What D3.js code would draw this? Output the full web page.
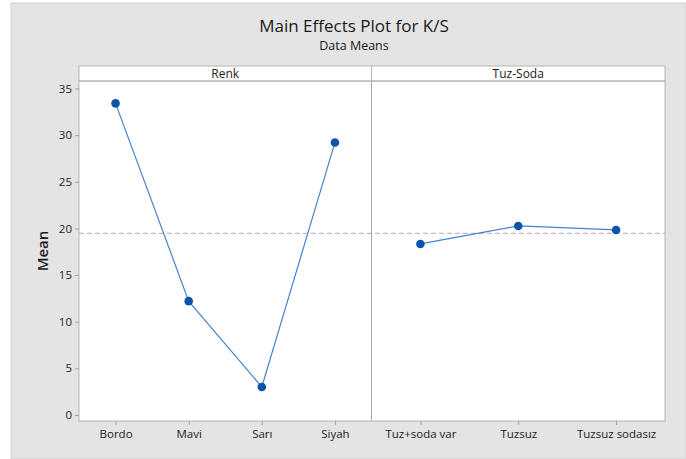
<!DOCTYPE html>
<html>
<head>
<meta charset="utf-8">
<script src="https://cdn.jsdelivr.net/npm/d3@7"></script>
<style>
  html, body { margin: 0; padding: 0; background: #ffffff; }
  svg { display: block; font-family: "Open Sans", "Noto Sans", sans-serif; }
</style>
</head>
<body>
<svg id="chart" width="686" height="459"></svg>
<script>
// Factor levels and their mean K/S responses
const renkLevels = ["Bordo", "Mavi", "Sarı", "Siyah"];
const renkMeans = [33.4, 12.2, 3.0, 29.2];
const tuzLevels = ["Tuz+soda var", "Tuzsuz", "Tuzsuz sodasız"];
const tuzMeans = [18.33, 20.26, 19.83];
const yTicks = [0, 5, 10, 15, 20, 25, 30, 35];
const grandMean = 19.46;

const svg = d3.select("#chart");

// Figure background
svg.append("rect")
  .attr("x", 11).attr("y", 3).attr("width", 675).attr("height", 456)
  .attr("fill", "#e4e4e4").attr("stroke", "#d2d2d2").attr("stroke-width", 1);

// Titles
svg.append("text").attr("x", 354).attr("y", 32).attr("text-anchor", "middle")
  .attr("font-size", 17).attr("fill", "#1a1a1a").text("Main Effects Plot for K/S");
svg.append("text").attr("x", 354).attr("y", 50).attr("text-anchor", "middle")
  .attr("font-size", 12.5).attr("fill", "#1a1a1a").text("Data Means");

const plotLeft = 79, plotRight = 665, divider = 371.5;
const stripTop = 66, stripBottom = 81, plotBottom = 421;

const y = d3.scaleLinear().domain([-0.65, 35.8]).range([plotBottom, stripBottom]);

const panels = [
  { name: "Renk", levels: renkLevels, values: renkMeans, x0: plotLeft, x1: divider },
  { name: "Tuz-Soda", levels: tuzLevels, values: tuzMeans, x0: divider, x1: plotRight }
];

// Plot area and strips
svg.append("rect").attr("x", plotLeft).attr("y", stripBottom)
  .attr("width", plotRight - plotLeft).attr("height", plotBottom - stripBottom)
  .attr("fill", "#ffffff");

panels.forEach(p => {
  svg.append("rect").attr("x", p.x0).attr("y", stripTop)
    .attr("width", p.x1 - p.x0).attr("height", stripBottom - stripTop)
    .attr("fill", "#ffffff").attr("stroke", "#b4b4b4");
  svg.append("text").attr("x", (p.x0 + p.x1) / 2).attr("y", stripTop + 11.5)
    .attr("text-anchor", "middle").attr("font-size", 12).attr("fill", "#1a1a1a")
    .text(p.name);
});

// Reference line at the grand mean
svg.append("line")
  .attr("x1", plotLeft).attr("x2", plotRight)
  .attr("y1", y(grandMean)).attr("y2", y(grandMean))
  .attr("stroke", "#bdbdbd").attr("stroke-width", 1.3).attr("stroke-dasharray", "5,3");

// Frame
svg.append("rect").attr("x", plotLeft).attr("y", stripBottom)
  .attr("width", plotRight - plotLeft).attr("height", plotBottom - stripBottom)
  .attr("fill", "none").attr("stroke", "#b4b4b4");
svg.append("line").attr("x1", divider).attr("x2", divider)
  .attr("y1", stripBottom).attr("y2", plotBottom)
  .attr("stroke", "#a8a8a8");

// Y axis
const yAxis = svg.append("g").attr("transform", `translate(${plotLeft},0)`)
  .call(d3.axisLeft(y).tickValues(yTicks).tickSize(4).tickPadding(3));
yAxis.select(".domain").remove();
yAxis.selectAll(".tick line").attr("stroke", "#a0a0a0");
yAxis.selectAll(".tick text").attr("font-size", 11.5).attr("fill", "#222")
  .attr("font-family", "'Open Sans', 'Noto Sans', sans-serif");

svg.append("text")
  .attr("transform", `translate(48,${(stripBottom + plotBottom) / 2}) rotate(-90)`)
  .attr("text-anchor", "middle").attr("font-size", 15).attr("font-weight", 600)
  .attr("fill", "#1a1a1a").text("Mean");

// Panels: x axes, lines and points
panels.forEach(p => {
  const x = d3.scalePoint().domain(p.levels).range([p.x0, p.x1]).padding(0.5);
  const xAxis = svg.append("g").attr("transform", `translate(0,${plotBottom})`)
    .call(d3.axisBottom(x).tickSize(4).tickPadding(5));
  xAxis.select(".domain").remove();
  xAxis.selectAll(".tick line").attr("stroke", "#a0a0a0");
  xAxis.selectAll(".tick text").attr("font-size", 11.5).attr("fill", "#222")
    .attr("font-family", "'Open Sans', 'Noto Sans', sans-serif");

  const pts = p.levels.map((l, i) => [x(l), y(p.values[i])]);
  svg.append("path").attr("d", d3.line()(pts))
    .attr("fill", "none").attr("stroke", "#4584cc").attr("stroke-width", 1.2);
  svg.selectAll(null).data(pts).enter().append("circle")
    .attr("cx", d => d[0]).attr("cy", d => d[1]).attr("r", 4.3)
    .attr("fill", "#0a55a8");
});
</script>
</body>
</html>
